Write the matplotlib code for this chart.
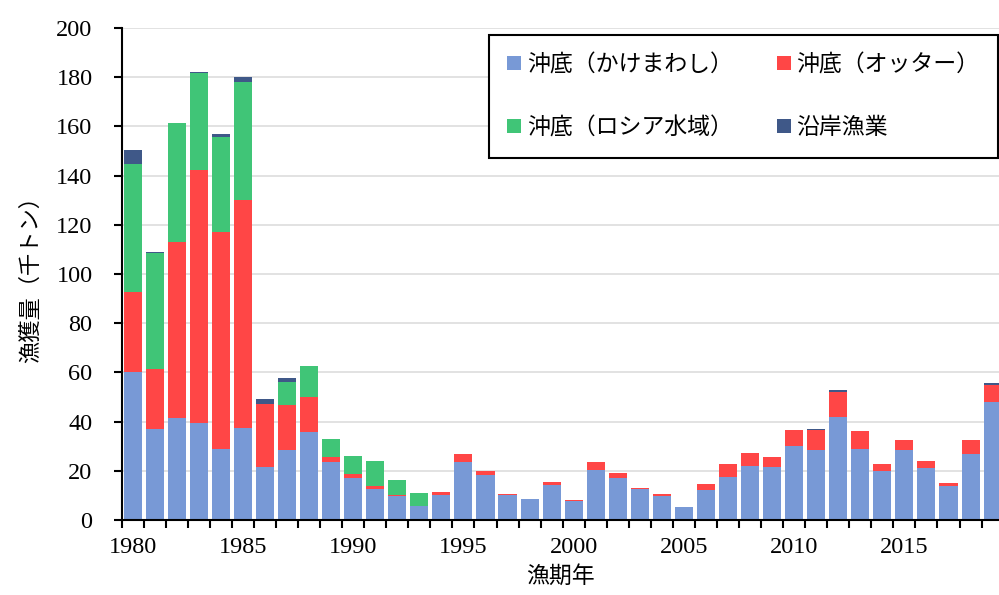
import numpy as np
import matplotlib
matplotlib.use('Agg')
import matplotlib.pyplot as plt
from matplotlib.ticker import MultipleLocator, FixedLocator

# 漁期年
years = list(range(1980, 2020))

# 沖底（かけまわし）
kakemawashi = [60.0, 36.8, 41.5, 39.5, 28.7, 37.5, 21.5, 28.5, 35.7, 23.7,
               17.1, 12.8, 9.8, 5.6, 10.1, 23.7, 18.1, 10.1, 8.6, 14.1,
               7.9, 20.4, 17.1, 12.5, 9.8, 5.3, 12.1, 17.3, 22.0, 21.6,
               30.0, 28.5, 41.7, 28.8, 20.1, 28.6, 21.2, 13.7, 26.9, 47.9]
# 沖底（オッター）
otter = [32.7, 24.6, 71.5, 102.9, 88.2, 92.4, 25.5, 18.2, 14.5, 1.9,
         1.5, 0.9, 0.3, 0.0, 1.3, 3.1, 2.0, 0.5, 0.0, 1.3,
         0.4, 3.3, 1.9, 0.7, 0.9, 0.0, 2.7, 5.3, 5.3, 4.0,
         6.6, 8.1, 10.4, 7.4, 2.8, 4.0, 2.7, 1.4, 5.5, 6.8]
# 沖底（ロシア水域）
russia = [52.1, 47.1, 48.3, 39.2, 38.7, 48.3, 0.0, 9.5, 12.5, 7.2,
          7.4, 10.4, 6.0, 5.4, 0.0, 0.0, 0.0, 0.0, 0.0, 0.0,
          0.0, 0.0, 0.0, 0.0, 0.0, 0.0, 0.0, 0.0, 0.0, 0.0,
          0.0, 0.0, 0.0, 0.0, 0.0, 0.0, 0.0, 0.0, 0.0, 0.0]
# 沿岸漁業
engan = [5.7, 0.5, 0.2, 0.4, 1.1, 1.8, 2.2, 1.7, 0.0, 0.0,
         0.0, 0.0, 0.0, 0.0, 0.0, 0.0, 0.0, 0.0, 0.0, 0.0,
         0.0, 0.0, 0.0, 0.0, 0.0, 0.0, 0.0, 0.0, 0.0, 0.0,
         0.0, 0.3, 0.7, 0.0, 0.0, 0.0, 0.0, 0.0, 0.0, 1.1]

labels = ['沖底（かけまわし）', '沖底（オッター）', '沖底（ロシア水域）', '沿岸漁業']
colors = ['#7899D6', '#FF4646', '#40C577', '#3F5888']

jp_font = ['Noto Sans CJK JP', 'DejaVu Sans']
num_font = ['Liberation Serif', 'DejaVu Serif']

fig = plt.figure(figsize=(9.99, 5.95), dpi=100)
ax = fig.add_axes([0.1218, 0.126, 0.8782, 0.827])

x = np.array(years)
bottom = np.zeros(len(years))
series = [kakemawashi, otter, russia, engan]
handles = []
for vals, lab, col in zip(series, labels, colors):
    vals = np.array(vals)
    b = ax.bar(x, vals, width=0.82, bottom=bottom, color=col, label=lab,
               edgecolor='none', zorder=2)
    handles.append(b)
    bottom += vals

ax.set_ylim(0, 200)
ax.set_xlim(1979.5, 2019.29)
ax.yaxis.set_major_locator(MultipleLocator(20))
ax.grid(axis='y', color='#DDDDDD', linewidth=1.2, zorder=0)

ax.xaxis.set_major_locator(FixedLocator(list(range(1980, 2020, 5))))
ax.xaxis.set_minor_locator(FixedLocator([y - 0.5 for y in years] + [2019.5]))
ax.tick_params(axis='x', which='major', length=0, pad=12)
ax.tick_params(axis='x', which='minor', length=6, width=1.5, direction='out')
ax.tick_params(axis='y', length=6, width=1.5, direction='out', pad=15)

for lbl in ax.get_xticklabels() + ax.get_yticklabels():
    lbl.set_family(num_font)
    lbl.set_fontsize(17.5)

for s in ['top', 'right']:
    ax.spines[s].set_visible(False)
for s in ['left', 'bottom']:
    ax.spines[s].set_linewidth(1.5)
    ax.spines[s].set_color('black')

ax.set_ylabel('漁獲量（千トン）', family=jp_font, fontsize=16, labelpad=10)
ax.set_xlabel('漁期年', family=jp_font, fontsize=16.5, labelpad=5)

# 行ごとに並べる（2列）
order = [0, 2, 1, 3]
leg = ax.legend([handles[i] for i in order], [labels[i] for i in order],
                loc='upper left', bbox_to_anchor=(0.4187, 0.738, 0.58, 0.248),
                mode='expand', ncol=2, frameon=True, fancybox=False,
                edgecolor='black', framealpha=1, borderaxespad=0,
                prop={'family': jp_font, 'size': 16.5},
                handlelength=0.6, handleheight=0.6, handletextpad=0.25,
                labelspacing=1.75, columnspacing=1.2, borderpad=0.8)
leg.get_frame().set_linewidth(1.5)

fig.savefig('out.png', dpi=100)
